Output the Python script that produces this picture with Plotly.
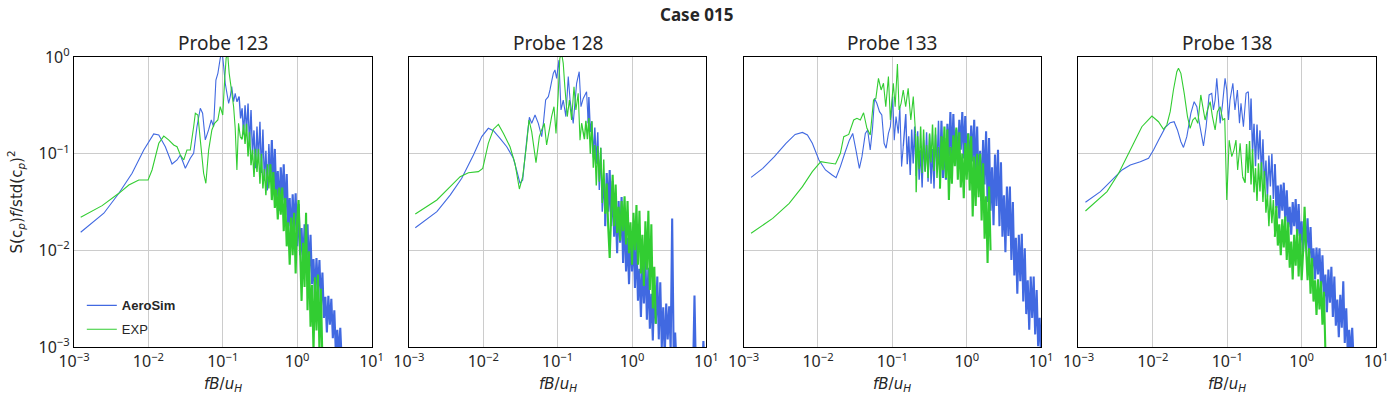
import plotly.graph_objects as go

# ---------------- data ----------------
PROBES = ["Probe 123", "Probe 128", "Probe 133", "Probe 138"]
SERIES_NAMES = ["AeroSim", "EXP"]
X_TICKS = [1e-3, 1e-2, 1e-1, 1e0, 1e1]
X_TICKTEXT = ["10<sup>−3</sup>", "10<sup>−2</sup>", "10<sup>−1</sup>", "10<sup>0</sup>", "10<sup>1</sup>"]
Y_TICKS = [1e-3, 1e-2, 1e-1, 1e0]
Y_TICKTEXT = ["10<sup>−3</sup>", "10<sup>−2</sup>", "10<sup>−1</sup>", "10<sup>0</sup>"]

# shared high-frequency grid (fB/uH) for the noisy part of the spectra
F_BAND = [0.1000, 0.1047, 0.1096, 0.1148, 0.1202, 0.1259, 0.1318, 0.1380, 0.1445, 0.1514,
          0.1585, 0.1660, 0.1738, 0.1820, 0.1905, 0.1995, 0.2089, 0.2188, 0.2291, 0.2399,
          0.2512, 0.2630, 0.2754, 0.2884, 0.3020, 0.3162, 0.3311, 0.3467, 0.3631, 0.3802,
          0.3981, 0.4169, 0.4365, 0.4571, 0.4786, 0.5012, 0.5248, 0.5495, 0.5754, 0.6026,
          0.6310, 0.6607, 0.6918, 0.7244, 0.7586, 0.7943, 0.8318, 0.8710, 0.9120, 0.9550,
          1.000, 1.047, 1.096, 1.148, 1.202, 1.259, 1.318, 1.380, 1.445, 1.514,
          1.585, 1.660, 1.738, 1.820, 1.905, 1.995, 2.089, 2.188, 2.291, 2.399,
          2.512, 2.630, 2.754, 2.884, 3.020, 3.162, 3.311, 3.467, 3.631, 3.802,
          3.981, 4.169, 4.365, 4.571, 4.786, 5.012, 5.248, 5.495, 5.754, 6.026,
          6.310, 6.607, 6.918, 7.244, 7.586, 7.943, 8.318, 8.710, 9.120, 9.550,
          10.00]

# ---- Probe 123 ----
P123_SIM_F = [0.00123, 0.00252, 0.00401, 0.00604, 0.00867, 0.0118, 0.0138, 0.0169, 0.0208, 0.0243,
              0.0269, 0.0314, 0.0366, 0.0406, 0.0450, 0.0499, 0.0536, 0.0582, 0.0645, 0.0702,
              0.0753, 0.0809, 0.0860, 0.0925, 0.0973, 0.103, 0.108, 0.120, 0.126, 0.132,
              0.140, 0.147, 0.155]
P123_SIM_S = [0.0154, 0.0242, 0.0389, 0.0627, 0.109, 0.160, 0.156, 0.118, 0.0782, 0.0861,
              0.0970, 0.0706, 0.0896, 0.101, 0.190, 0.295, 0.262, 0.139, 0.176, 0.223,
              0.190, 0.578, 0.678, 0.97, 1.2, 0.794, 0.535, 0.332, 0.388, 0.493,
              0.345, 0.421, 0.345]
P123_SIM_I0 = 11
P123_SIM_BAND = [0.389, 0.232, 0.295, 0.158, 0.316, 0.170, 0.331, 0.123, 0.282, 0.100,
                 0.174, 0.0708, 0.191, 0.0851, 0.214, 0.0631, 0.178, 0.0525, 0.107, 0.0417,
                 0.126, 0.0562, 0.138, 0.0407, 0.112, 0.0339, 0.0661, 0.0257, 0.0724, 0.0331,
                 0.0776, 0.0229, 0.0617, 0.0178, 0.0347, 0.0129, 0.0380, 0.0162, 0.0389, 0.0110,
                 0.0302, 0.00891, 0.0170, 0.00676, 0.0186, 0.00832, 0.0186, 0.00575, 0.0145, 0.00447,
                 0.00813, 0.00331, 0.00832, 0.00389, 0.00794, 0.00263, 0.00589, 0.0020, 0.00331, 0.00141,
                 0.00339, 0.0017, 0.00316, 0.00123, 0.0024, 0.00089, 0.00151, 0.00079, 0.00158, 0.0007]
P123_EXP_F = [0.00123, 0.00239, 0.00401, 0.00546, 0.00743, 0.00991, 0.0112, 0.0138, 0.0161, 0.0187,
              0.0219, 0.0243, 0.0269, 0.0299, 0.0330, 0.0366, 0.0406, 0.0428, 0.0463, 0.0499,
              0.0553, 0.0593, 0.0646, 0.0714, 0.0776, 0.0859, 0.0925, 0.100, 0.106, 0.111,
              0.116, 0.122, 0.130, 0.140, 0.147, 0.155, 0.163, 0.172]
P123_EXP_S = [0.0220, 0.0290, 0.0389, 0.0474, 0.0535, 0.0535, 0.0678, 0.128, 0.152, 0.139,
              0.123, 0.118, 0.0970, 0.0861, 0.109, 0.109, 0.190, 0.262, 0.251, 0.139,
              0.0627, 0.0494, 0.109, 0.176, 0.206, 0.223, 0.306, 0.251, 0.578, 0.970,
              1.12, 0.678, 0.474, 0.306, 0.183, 0.0678, 0.206, 0.150]
P123_EXP_I0 = 13
P123_EXP_BAND = [0.141, 0.200, 0.126, 0.204, 0.0933, 0.166, 0.0759, 0.110, 0.0575, 0.112,
                 0.0646, 0.112, 0.0490, 0.100, 0.0437, 0.0692, 0.0372, 0.0776, 0.0437, 0.0776,
                 0.0331, 0.0646, 0.0275, 0.0427, 0.0209, 0.0447, 0.0234, 0.0447, 0.0158, 0.0347,
                 0.0110, 0.0195, 0.00708, 0.0219, 0.00891, 0.0245, 0.00575, 0.0204, 0.0331, 0.0102,
                 0.0030, 0.0120, 0.00417, 0.0245, 0.0024, 0.00977, 0.00162, 0.00437, 0.0009, 0.00525,
                 0.00148, 0.00562, 0.0009, 0.004, 0.0007]

# ---- Probe 128 ----
P128_SIM_F = [0.00122, 0.00238, 0.00359, 0.00514, 0.00738, 0.00955, 0.0117, 0.0137, 0.0168, 0.0207,
              0.0254, 0.0288, 0.0312, 0.0339, 0.0384, 0.0417, 0.0448, 0.0497, 0.0550, 0.0610,
              0.0643, 0.0690, 0.0750, 0.0789, 0.0830, 0.0875, 0.0920, 0.0970, 0.104, 0.111,
              0.119, 0.129, 0.139, 0.147, 0.162, 0.180, 0.195, 0.206, 0.221, 0.245,
              0.258]
P128_SIM_S = [0.0171, 0.0251, 0.0373, 0.0556, 0.0968, 0.150, 0.183, 0.173, 0.144, 0.118,
              0.0895, 0.0627, 0.0493, 0.0535, 0.138, 0.238, 0.206, 0.251, 0.206, 0.150,
              0.206, 0.359, 0.389, 0.456, 0.556, 0.678, 0.735, 0.601, 0.931, 0.283,
              0.359, 0.242, 0.627, 0.359, 0.206, 0.535, 0.705, 0.306, 0.373, 0.438,
              0.206]
P128_SIM_I0 = 21
P128_SIM_BAND = [0.385, 0.168, 0.216, 0.0912, 0.186, 0.0785, 0.166, 0.0421, 0.115, 0.0251,
                 0.0537, 0.0178, 0.0631, 0.0251, 0.0676, 0.0178, 0.0525, 0.0138, 0.0282, 0.00933,
                 0.0324, 0.0120, 0.0355, 0.00741, 0.0269, 0.00603, 0.0135, 0.00447, 0.0148, 0.00603,
                 0.0151, 0.00407, 0.0123, 0.00302, 0.00646, 0.00204, 0.00759, 0.00282, 0.00832, 0.00191,
                 0.00661, 0.00155, 0.00355, 0.00117, 0.00437, 0.00174, 0.00537, 0.0012, 0.00468, 0.00099,
                 0.00257, 0.00079, 0.00282, 0.0012, 0.00263, 0.00093, 0.0214, 0.00087, 0.00141, 0.0006,
                 0.0005, 0.0005, 0.0005, 0.0005, 0.0005, 0.0005, 0.0005, 0.0005, 0.0005, 0.0005,
                 0.0005, 0.0034, 0.0005, 0.0005, 0.0005, 0.0005, 0.0005, 0.00115, 0.0005, 0.0005]
P128_EXP_F = [0.00122, 0.00238, 0.00489, 0.00632, 0.00861, 0.00984, 0.0117, 0.0137, 0.0160, 0.0187,
              0.0229, 0.0267, 0.0306, 0.0339, 0.0384, 0.0412, 0.0448, 0.0512, 0.0568, 0.0610,
              0.0662, 0.0711, 0.0773, 0.0830, 0.0893, 0.0951, 0.102, 0.107, 0.113, 0.119,
              0.125, 0.135, 0.144, 0.154, 0.166, 0.176, 0.189, 0.200, 0.210]
P128_EXP_S = [0.0238, 0.0332, 0.0578, 0.0635, 0.0652, 0.0705, 0.128, 0.179, 0.201, 0.162,
              0.118, 0.0794, 0.0431, 0.0578, 0.128, 0.223, 0.169, 0.0807, 0.150, 0.176,
              0.206, 0.123, 0.176, 0.242, 0.306, 0.162, 0.421, 0.968, 1.10, 0.859,
              0.493, 0.242, 0.359, 0.223, 0.493, 0.283, 0.421, 0.138, 0.206]
P128_EXP_I0 = 18
P128_EXP_BAND = [0.141, 0.219, 0.141, 0.234, 0.100, 0.216, 0.0716, 0.123, 0.0468, 0.120,
                 0.0513, 0.115, 0.0309, 0.0871, 0.0240, 0.0490, 0.0174, 0.00832, 0.0240, 0.0603,
                 0.0178, 0.0479, 0.0151, 0.0282, 0.0126, 0.0324, 0.0158, 0.0363, 0.0115, 0.0324,
                 0.00933, 0.0195, 0.00708, 0.0245, 0.0100, 0.0295, 0.00708, 0.0257, 0.00575, 0.0145,
                 0.00427, 0.0200, 0.00631, 0.0257, 0.00389, 0.0186, 0.00251, 0.00676, 0.00174]

# ---- Probe 133 ----
P133_SIM_F = [0.00126, 0.00181, 0.00259, 0.00371, 0.00493, 0.00618, 0.00721, 0.00839, 0.0103, 0.0126,
              0.0155, 0.0175, 0.0200, 0.0229, 0.0264, 0.0293, 0.0324, 0.0360, 0.0390, 0.0433,
              0.0465, 0.0504, 0.0541, 0.0575, 0.0618, 0.0671, 0.0721, 0.0774, 0.0824, 0.0885,
              0.0940, 0.101, 0.106, 0.112, 0.120, 0.126, 0.133, 0.140]
P133_SIM_S = [0.0569, 0.0705, 0.0931, 0.128, 0.158, 0.166, 0.156, 0.128, 0.0859, 0.0678,
              0.0601, 0.0565, 0.0735, 0.101, 0.138, 0.162, 0.109, 0.0705, 0.0931, 0.162,
              0.176, 0.109, 0.183, 0.373, 0.332, 0.272, 0.251, 0.128, 0.114, 0.162,
              0.190, 0.389, 0.138, 0.242, 0.162, 0.306, 0.0735, 0.118]
P133_SIM_I0 = 9
P133_SIM_BAND = [0.257, 0.0776, 0.151, 0.0603, 0.178, 0.0794, 0.191, 0.0589,
                 0.170, 0.0537, 0.110, 0.0447, 0.138, 0.0661, 0.166, 0.0513,
                 0.158, 0.0490, 0.112, 0.0437, 0.158, 0.0708, 0.219, 0.0575,
                 0.219, 0.0562, 0.145, 0.0537, 0.204, 0.0933, 0.269, 0.0813,
                 0.257, 0.0851, 0.178, 0.0741, 0.224, 0.110, 0.269, 0.0891,
                 0.245, 0.0832, 0.162, 0.0646, 0.195, 0.0832, 0.224, 0.0575,
                 0.191, 0.0447, 0.107, 0.0324, 0.138, 0.0479, 0.170, 0.0316,
                 0.145, 0.0257, 0.0724, 0.0182, 0.0977, 0.0288, 0.110, 0.0178,
                 0.0813, 0.0138, 0.0372, 0.00955, 0.0457, 0.0141, 0.0457, 0.00794,
                 0.0316, 0.0055, 0.0135, 0.00355, 0.0145, 0.00479, 0.0148, 0.00295,
                 0.0105, 0.00219, 0.0049, 0.00151, 0.00537, 0.0020, 0.00537, 0.00135,
                 0.00389, 0.00102, 0.0020, 0.00079]
P133_EXP_F = [0.00126, 0.00246, 0.00410, 0.00618, 0.00839, 0.0109, 0.0133, 0.0172, 0.0200, 0.0222,
              0.0259, 0.0302, 0.0334, 0.0371, 0.0410, 0.0455, 0.0504, 0.0558, 0.0600, 0.0650,
              0.0706, 0.0759, 0.0815, 0.0885, 0.0940, 0.103, 0.109, 0.117, 0.123, 0.131,
              0.140, 0.151, 0.163, 0.177, 0.191, 0.205]
P133_EXP_S = [0.0150, 0.0214, 0.0306, 0.0456, 0.0652, 0.0826, 0.0807, 0.0782, 0.101, 0.150,
              0.158, 0.223, 0.232, 0.223, 0.265, 0.183, 0.156, 0.359, 0.373, 0.601,
              0.456, 0.535, 0.306, 0.627, 0.223, 0.535, 0.306, 0.847, 0.283, 0.332,
              0.456, 0.306, 0.474, 0.223, 0.389, 0.162]
P133_EXP_I0 = 16
P133_EXP_BAND = [0.0398, 0.151, 0.0692, 0.191, 0.0631, 0.178, 0.0646, 0.123,
                 0.0562, 0.162, 0.0813, 0.200, 0.0661, 0.186, 0.0562, 0.117,
                 0.0437, 0.151, 0.0676, 0.191, 0.0562, 0.178, 0.0331, 0.117,
                 0.0490, 0.155, 0.0741, 0.186, 0.0537, 0.166, 0.0447, 0.100,
                 0.0347, 0.129, 0.0537, 0.162, 0.0417, 0.151, 0.0224, 0.0933,
                 0.0288, 0.100, 0.0355, 0.100, 0.0204, 0.0794, 0.0132, 0.0363,
                 0.00741, 0.0457, 0.0100]

# ---- Probe 138 ----
P138_SIM_F = [0.00124, 0.00197, 0.00297, 0.00385, 0.00497, 0.00678, 0.00875, 0.0102, 0.0119, 0.0147,
              0.0171, 0.0193, 0.0214, 0.0238, 0.0258, 0.0286, 0.0324, 0.0359, 0.0390, 0.0419,
              0.0455, 0.0479, 0.0520, 0.0570, 0.0619, 0.0652, 0.0687, 0.0723, 0.0762, 0.0802,
              0.0861, 0.0935, 0.0985, 0.104, 0.109, 0.119, 0.127, 0.137, 0.146, 0.153,
              0.165, 0.179, 0.192, 0.202]
P138_SIM_S = [0.0314, 0.0405, 0.0556, 0.0678, 0.0764, 0.0826, 0.0895, 0.109, 0.138, 0.187,
              0.209, 0.214, 0.176, 0.133, 0.116, 0.150, 0.261, 0.345, 0.306, 0.214,
              0.150, 0.120, 0.190, 0.405, 0.421, 0.283, 0.359, 0.601, 0.359, 0.206,
              0.318, 0.601, 0.456, 0.223, 0.359, 0.535, 0.283, 0.456, 0.206, 0.332,
              0.190, 0.421, 0.438, 0.176]
P138_SIM_I0 = 16
P138_SIM_BAND = [0.372, 0.105, 0.204, 0.0741, 0.200, 0.0871, 0.174, 0.0589,
                 0.141, 0.0468, 0.0851, 0.0355, 0.0955, 0.0457, 0.100, 0.0339,
                 0.0776, 0.0275, 0.0468, 0.0214, 0.0479, 0.0257, 0.0501, 0.0200,
                 0.0417, 0.0174, 0.0282, 0.0145, 0.0316, 0.0178, 0.0339, 0.0141,
                 0.0302, 0.0120, 0.0200, 0.00955, 0.0209, 0.0110, 0.0214, 0.00832,
                 0.0174, 0.00646, 0.0105, 0.00501, 0.0107, 0.00562, 0.0105, 0.00407,
                 0.00891, 0.00316, 0.00562, 0.00229, 0.00631, 0.00288, 0.00676, 0.00204,
                 0.00537, 0.00166, 0.00309, 0.00126, 0.00347, 0.00158, 0.00479, 0.0011,
                 0.00251, 0.00089, 0.00151, 0.00079, 0.00158, 0.0007]
P138_EXP_F = [0.00124, 0.00242, 0.00347, 0.00497, 0.00711, 0.00971, 0.0119, 0.0139, 0.0154, 0.0171,
              0.0189, 0.0210, 0.0221, 0.0238, 0.0264, 0.0292, 0.0317, 0.0344, 0.0370, 0.0402,
              0.0441, 0.0469, 0.0504, 0.0542, 0.0589, 0.0632, 0.0687, 0.0738, 0.0802, 0.0871,
              0.0925, 0.0985, 0.102, 0.106, 0.115, 0.123, 0.131, 0.138, 0.149, 0.161]
P138_EXP_S = [0.0255, 0.0405, 0.0627, 0.109, 0.190, 0.245, 0.214, 0.179, 0.198, 0.272,
              0.456, 0.705, 0.764, 0.678, 0.421, 0.242, 0.183, 0.223, 0.236, 0.206,
              0.405, 0.306, 0.223, 0.283, 0.345, 0.242, 0.176, 0.272, 0.306, 0.223,
              0.232, 0.0332, 0.0627, 0.138, 0.0931, 0.109, 0.138, 0.0678, 0.128, 0.0578]
P138_EXP_I0 = 12
P138_EXP_BAND = [0.0501, 0.126, 0.0631, 0.135, 0.0479, 0.112, 0.0398, 0.0708,
                 0.0324, 0.0794, 0.0407, 0.0813, 0.0316, 0.0661, 0.0245, 0.0380,
                 0.0178, 0.0372, 0.0191, 0.0331, 0.0138, 0.0288, 0.0112, 0.0186,
                 0.00891, 0.0209, 0.0107, 0.0224, 0.00794, 0.0195, 0.00661, 0.0123,
                 0.00501, 0.0145, 0.00692, 0.0166, 0.00537, 0.0148, 0.0049, 0.00955,
                 0.0282, 0.0105, 0.0049, 0.0105, 0.00355, 0.00832, 0.00295, 0.0049,
                 0.00214, 0.00501, 0.00245, 0.00479, 0.0017, 0.00372, 0.00089, 0.0008]

PANELS = [
    ((P123_SIM_F, P123_SIM_S, P123_SIM_I0, P123_SIM_BAND),
     (P123_EXP_F, P123_EXP_S, P123_EXP_I0, P123_EXP_BAND)),
    ((P128_SIM_F, P128_SIM_S, P128_SIM_I0, P128_SIM_BAND),
     (P128_EXP_F, P128_EXP_S, P128_EXP_I0, P128_EXP_BAND)),
    ((P133_SIM_F, P133_SIM_S, P133_SIM_I0, P133_SIM_BAND),
     (P133_EXP_F, P133_EXP_S, P133_EXP_I0, P133_EXP_BAND)),
    ((P138_SIM_F, P138_SIM_S, P138_SIM_I0, P138_SIM_BAND),
     (P138_EXP_F, P138_EXP_S, P138_EXP_I0, P138_EXP_BAND)),
]

# ---------------- figure ----------------
COLORS = ["#4169E1", "#32CD32"]
LEGEND_NAMES = ["<b>AeroSim</b>", "EXP"]
TEXT = "#262626"
FONT = "Noto Sans"
DOMAINS = [[0.0, 0.2285], [0.2572, 0.4857], [0.5143, 0.7428], [0.7715, 1.0]]
F_DENSE = 0.45   # above this frequency the spectra render as a dense band

fig = go.Figure()
for p, pair in enumerate(PANELS):
    sfx = "" if p == 0 else str(p + 1)
    for k, (f_lo, s_lo, i0, s_band) in enumerate(pair):
        grp = SERIES_NAMES[k]
        xb = [f_lo[-1]] + F_BAND[i0:i0 + len(s_band)]
        yb = [s_lo[-1]] + list(s_band)
        cut = max(j for j, f in enumerate(xb) if f <= F_DENSE)
        parts = [
            (list(f_lo), list(s_lo), 1.1, p == 0),
            (xb[:cut + 1], yb[:cut + 1], 1.4, False),
            (xb[cut:], yb[cut:], 2.1, False),
        ]
        for xs, ys, w, show in parts:
            fig.add_trace(go.Scatter(
                x=xs, y=ys, mode="lines", name=LEGEND_NAMES[k],
                legendgroup=grp, showlegend=show,
                line=dict(color=COLORS[k], width=w, simplify=False),
                xaxis="x" + sfx, yaxis="y" + sfx, hoverinfo="skip"))

layout = dict(
    width=1400, height=400,
    margin=dict(l=74, r=16, t=57, b=53),
    plot_bgcolor="white", paper_bgcolor="white",
    font=dict(family=FONT, color=TEXT, size=16),
    legend=dict(x=0.006, y=0.195, xanchor="left", yanchor="top",
                bgcolor="rgba(0,0,0,0)", itemwidth=30, traceorder="grouped",
                font=dict(family="Liberation Sans", size=13, color=TEXT),
                tracegroupgap=4),
    annotations=[],
)

for p in range(4):
    sfx = "" if p == 0 else str(p + 1)
    layout["xaxis" + sfx] = dict(
        type="log", range=[-3, 1], domain=DOMAINS[p], anchor="y" + sfx,
        tickvals=X_TICKS, ticktext=X_TICKTEXT, tickfont=dict(size=16, color=TEXT),
        showgrid=True, gridcolor="#cccccc", gridwidth=1,
        showline=True, linecolor="black", linewidth=1.3, mirror=True,
        ticks="", zeroline=False)
    layout["yaxis" + sfx] = dict(
        type="log", range=[-3, 0], domain=[0, 1], anchor="x" + sfx,
        tickvals=Y_TICKS, ticktext=Y_TICKTEXT, tickfont=dict(size=16, color=TEXT),
        showticklabels=(p == 0),
        showgrid=True, gridcolor="#cccccc", gridwidth=1,
        showline=True, linecolor="black", linewidth=1.3, mirror=True,
        ticks="", zeroline=False)
    cx = (DOMAINS[p][0] + DOMAINS[p][1]) / 2
    layout["annotations"].append(dict(
        text=PROBES[p], x=cx, y=1.048, xref="paper", yref="paper",
        xanchor="center", yanchor="middle", showarrow=False,
        font=dict(family=FONT, size=19, color=TEXT)))
    layout["annotations"].append(dict(
        text="<i>fB</i>/<i>u</i><sub><i>H</i></sub>", x=cx, y=-0.13, xref="paper", yref="paper",
        xanchor="center", yanchor="middle", showarrow=False,
        font=dict(family="DejaVu Sans", size=15, color=TEXT)))

layout["annotations"].append(dict(
    text="<b>Case 015</b>", x=(700 - 74) / 1310, y=1.148, xref="paper", yref="paper",
    xanchor="center", yanchor="middle", showarrow=False,
    font=dict(family=FONT, size=17, color=TEXT)))
layout["annotations"].append(dict(
    text="S(c<sub><i>p</i></sub>)<i>f</i>/std(c<sub><i>p</i></sub>)<sup>2</sup>",
    x=-0.045, y=0.5, xref="paper", yref="paper", textangle=-90,
    xanchor="center", yanchor="middle", showarrow=False,
    font=dict(family="DejaVu Sans", size=15, color=TEXT)))

fig.update_layout(**layout)
fig.write_html("out.html", config={"displayModeBar": False},
               post_script="document.body.style.margin='0px';")
